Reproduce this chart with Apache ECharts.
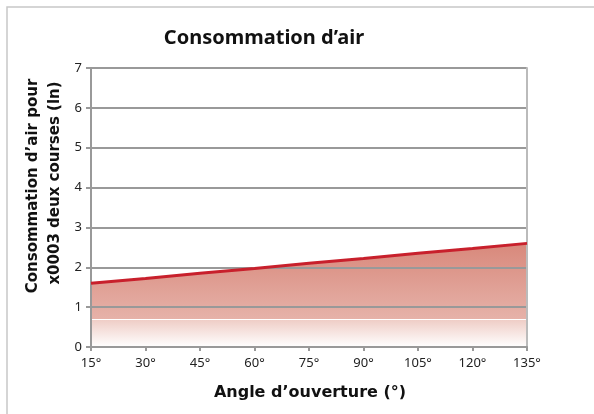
<!DOCTYPE html>
<html>
<head>
<meta charset="utf-8">
<script src="https://cdn.jsdelivr.net/npm/echarts@6/dist/echarts.min.js"></script>
<style>
html,body{margin:0;padding:0;background:#fff;}
#c{width:594px;height:414px;}
</style>
</head>
<body>
<div id="c"></div>
<script>
var angles = [15, 30, 45, 60, 75, 90, 105, 120, 135];
var airValues = [1.6, 1.72, 1.85, 1.97, 2.1, 2.22, 2.35, 2.47, 2.6];
var yTicks = [0, 1, 2, 3, 4, 5, 6, 7];
var titleText = 'Consommation d\u2019air';
var yTitleLine1 = 'Consommation d\u2019air pour';
var yTitleLine2 = 'x0003 deux courses (ln)';
var xTitleText = 'Angle d\u2019ouverture (°)';

var pts = angles.map(function (a, i) { return [a, airValues[i]]; });
var chart = echarts.init(document.getElementById('c'));
var fontFam = '"Noto Sans", "DejaVu Sans", sans-serif';
var boldFam = '"DejaVu Sans", "Noto Sans", sans-serif';
chart.setOption({
  animation: false,
  backgroundColor: '#fff',
  grid: { left: 91, right: 67, top: 68, bottom: 67 },
  graphic: [
    { type: 'rect', shape: { x: 7, y: 7, width: 700, height: 500 }, style: { fill: 'none', stroke: '#c8c8c8', lineWidth: 1.5 }, z: -1 },
    { type: 'text', x: 264, y: 38, style: { text: titleText, font: 'bold 20px ' + fontFam, fill: '#111', align: 'center', verticalAlign: 'middle' } },
    { type: 'text', x: 33, y: 186, rotation: Math.PI / 2, style: { text: yTitleLine1, font: 'bold 15px ' + boldFam, fill: '#111', align: 'center', verticalAlign: 'middle' } },
    { type: 'text', x: 55, y: 183, rotation: Math.PI / 2, style: { text: yTitleLine2, font: 'bold 15px ' + boldFam, fill: '#111', align: 'center', verticalAlign: 'middle' } },
    { type: 'text', x: 310, y: 393, style: { text: xTitleText, font: 'bold 16px ' + boldFam, fill: '#111', align: 'center', verticalAlign: 'middle' } }
  ],
  xAxis: {
    type: 'value', min: angles[0], max: angles[angles.length - 1], interval: 15,
    z: 3,
    axisLine: { show: true, lineStyle: { color: '#999', width: 2 } },
    axisTick: { show: true, length: 4, lineStyle: { color: '#999', width: 2 } },
    axisLabel: { formatter: '{value}°', color: '#222', fontSize: 13, fontFamily: fontFam, margin: 10 },
    splitLine: { show: false }
  },
  yAxis: [{
    type: 'value', min: yTicks[0], max: yTicks[yTicks.length - 1], interval: 1,
    z: 3,
    axisLine: { show: true, lineStyle: { color: '#999', width: 2 } },
    axisTick: { show: true, length: 5, lineStyle: { color: '#999', width: 2 } },
    axisLabel: { color: '#222', fontSize: 13, fontFamily: fontFam, margin: 9 },
    splitLine: { show: true, lineStyle: { color: '#999', width: 2 } }
  }, {
    type: 'value', min: yTicks[0], max: yTicks[yTicks.length - 1], interval: 1,
    position: 'right', z: 3,
    axisLine: { show: true, lineStyle: { color: '#bbb', width: 2 } },
    axisTick: { show: false }, axisLabel: { show: false }, splitLine: { show: false }
  }],
  series: [
    {
      type: 'line', data: pts, symbol: 'none', z: 1,
      lineStyle: { width: 0 },
      areaStyle: {
        opacity: 1,
        color: new echarts.graphic.LinearGradient(0, 0, 0, 1, [
          { offset: 0, color: '#d8887b' },
          { offset: 0.728, color: '#e6b2a9' },
          { offset: 0.729, color: '#ffffff' },
          { offset: 0.736, color: '#ffffff' },
          { offset: 0.737, color: '#efcdc6' },
          { offset: 1, color: '#ffffff' }
        ])
      }
    },
    {
      type: 'line', data: pts, symbol: 'none', z: 5,
      lineStyle: { color: '#c8202c', width: 3 }
    }
  ]
});
</script>
</body>
</html>
